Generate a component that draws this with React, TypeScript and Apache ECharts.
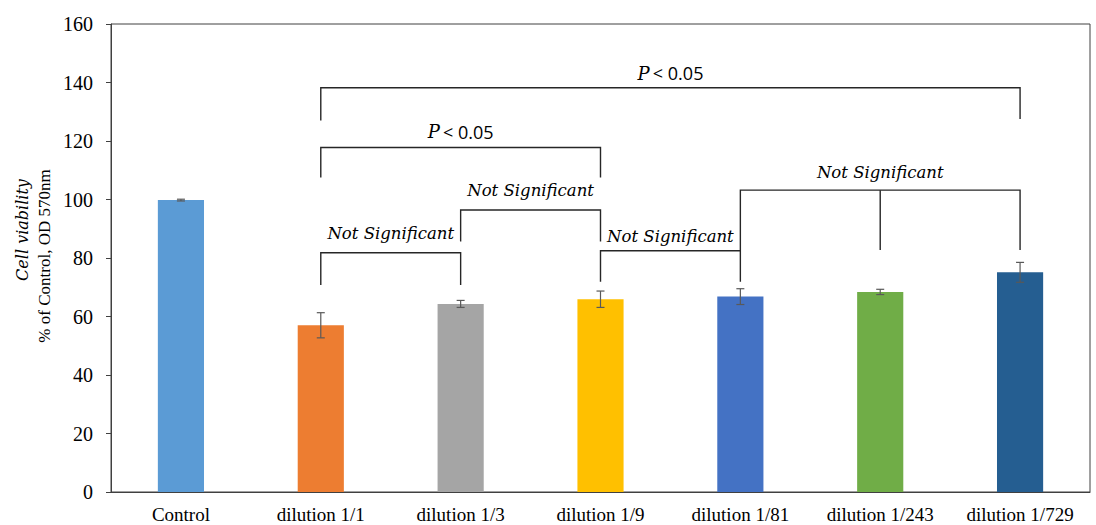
import React, { useEffect, useRef } from "react";
import * as echarts from "echarts";

// Cell viability per treatment group (% of control, OD 570 nm)
const categories = [
  "Control",
  "dilution 1/1",
  "dilution 1/3",
  "dilution 1/9",
  "dilution 1/81",
  "dilution 1/243",
  "dilution 1/729",
];
const viability = [99.8, 57.0, 64.3, 65.9, 66.8, 68.4, 75.1];
const viabilityError = [0.3, 4.3, 1.2, 2.8, 2.7, 0.9, 3.4];
const barColors = ["#5B9BD5", "#ED7D31", "#A5A5A5", "#FFC000", "#4472C4", "#70AD47", "#255E91"];

// Significance brackets: which groups they join, the height of the bar,
// where each leg ends, and where the caption sits (all in % units)
const bracketLabels = ["P < 0.05", "P < 0.05", "Not Significant", "Not Significant", "Not Significant", "Not Significant"];
const bracketLegs = [[1, 6], [1, 3], [1, 2], [2, 3], [3, 4], [4, 5, 6]];
const bracketTops = [138.2, 117.8, 81.8, 96.4, 82.5, 103.2];
const bracketFeet = [
  [127.0, 127.5],
  [107.5, 107.5],
  [70.8, 70.8],
  [85.6, 85.6],
  [71.9, 71.9],
  [82.7, 82.7, 82.7],
];
const bracketCaptionAt = [143.2, 123.2, 88.4, 103.2, 87.3, 109.4];

const yMin = 0;
const yMax = 160;
const yStep = 20;

const AXIS_COLOR = "#404040";
const SERIF = "'Liberation Serif', 'Times New Roman', serif";
const ITALIC_SERIF = "'DejaVu Serif', serif";

export default function App() {
  const ref = useRef<HTMLDivElement>(null);

  useEffect(() => {
    if (!ref.current) return;
    const chart = echarts.init(ref.current, null, { renderer: "svg" });

    const option: any = {
      animation: false,
      backgroundColor: "#ffffff",
      grid: {
        left: 111,
        right: 6,
        top: 24,
        bottom: 33,
        show: true,
        borderColor: AXIS_COLOR,
        borderWidth: 1,
        backgroundColor: "transparent",
      },
      xAxis: {
        type: "category",
        data: categories,
        axisLine: { show: true, lineStyle: { color: AXIS_COLOR, width: 1 } },
        axisTick: { show: false },
        axisLabel: {
          color: "#000",
          fontFamily: SERIF,
          fontSize: 19,
          margin: 13,
          interval: 0,
        },
      },
      yAxis: {
        type: "value",
        min: yMin,
        max: yMax,
        interval: yStep,
        splitLine: { show: false },
        axisLine: { show: true, lineStyle: { color: AXIS_COLOR, width: 1 } },
        axisTick: { show: true, length: 5, lineStyle: { color: AXIS_COLOR } },
        axisLabel: {
          color: "#000",
          fontFamily: SERIF,
          fontSize: 20,
          margin: 18,
        },
      },
      graphic: [
        {
          type: "text",
          x: 22,
          y: 230,
          rotation: Math.PI / 2,
          style: {
            text: "Cell viability",
            align: "center",
            verticalAlign: "middle",
            fontFamily: ITALIC_SERIF,
            fontStyle: "italic",
            fontSize: 16,
            fill: "#000",
          },
        },
        {
          type: "text",
          x: 44,
          y: 256,
          rotation: Math.PI / 2,
          style: {
            text: "% of Control, OD 570nm",
            align: "center",
            verticalAlign: "middle",
            fontFamily: SERIF,
            fontSize: 17,
            fill: "#000",
          },
        },
      ],
      series: [
        {
          type: "bar",
          barWidth: "33%",
          data: viability.map((v, i) => ({ value: v, itemStyle: { color: barColors[i] } })),
          z: 2,
        },
        {
          // error bars
          type: "custom",
          z: 3,
          data: viability.map((v, i) => [i, v, viabilityError[i]]),
          renderItem: (params: any, api: any) => {
            const x = api.value(0);
            const v = api.value(1);
            const e = api.value(2);
            const hi = api.coord([x, v + e]);
            const lo = api.coord([x, v - e]);
            const cap = 4;
            const style = { stroke: "#595959", lineWidth: 1.2 };
            return {
              type: "group",
              children: [
                { type: "line", shape: { x1: hi[0], y1: hi[1], x2: lo[0], y2: lo[1] }, style },
                { type: "line", shape: { x1: hi[0] - cap, y1: hi[1], x2: hi[0] + cap, y2: hi[1] }, style },
                { type: "line", shape: { x1: lo[0] - cap, y1: lo[1], x2: lo[0] + cap, y2: lo[1] }, style },
              ],
            };
          },
        },
        {
          // significance brackets
          type: "custom",
          z: 4,
          clip: false,
          data: bracketTops.map((t, i) => [bracketLegs[i][0], t]),
          renderItem: (params: any, api: any) => {
            const i = params.dataIndex;
            const legs = bracketLegs[i];
            const feet = bracketFeet[i];
            const top = bracketTops[i];
            const style = { stroke: "#262626", lineWidth: 1.4, fill: "none" };
            const children: any[] = [];
            const first = legs[0];
            const last = legs[legs.length - 1];
            const pFirstTop = api.coord([first, top]);
            const pFirstFoot = api.coord([first, feet[0]]);
            const pLastTop = api.coord([last, top]);
            const pLastFoot = api.coord([last, feet[feet.length - 1]]);
            children.push({
              type: "polyline",
              shape: { points: [pFirstFoot, pFirstTop, pLastTop, pLastFoot] },
              style,
            });
            for (let k = 1; k < legs.length - 1; k++) {
              const a = api.coord([legs[k], top]);
              const b = api.coord([legs[k], feet[k]]);
              children.push({ type: "line", shape: { x1: a[0], y1: a[1], x2: b[0], y2: b[1] }, style });
            }
            const cx = (pFirstTop[0] + pLastTop[0]) / 2;
            const cy = api.coord([first, bracketCaptionAt[i]])[1];
            const label = bracketLabels[i];
            if (label.startsWith("P")) {
              children.push({
                type: "text",
                style: {
                  x: cx,
                  y: cy,
                  text: "{p|P} {r|" + label.slice(2) + "}",
                  align: "center",
                  verticalAlign: "middle",
                  rich: {
                    p: { fontFamily: ITALIC_SERIF, fontStyle: "italic", fontSize: 18, fill: "#000" },
                    r: { fontFamily: "'Open Sans', 'Liberation Sans', sans-serif", fontSize: 18, fill: "#000" },
                  },
                },
              });
            } else {
              children.push({
                type: "text",
                style: {
                  x: cx,
                  y: cy,
                  text: label,
                  align: "center",
                  verticalAlign: "middle",
                  fontFamily: ITALIC_SERIF,
                  fontStyle: "italic",
                  fontSize: 16.5,
                  fill: "#000",
                },
              });
            }
            return { type: "group", children };
          },
        },
      ],
    };

    chart.setOption(option);
    return () => chart.dispose();
  }, []);

  return <div ref={ref} style={{ width: 1096, height: 525, position: "absolute", left: 0, top: 0 }} />;
}
